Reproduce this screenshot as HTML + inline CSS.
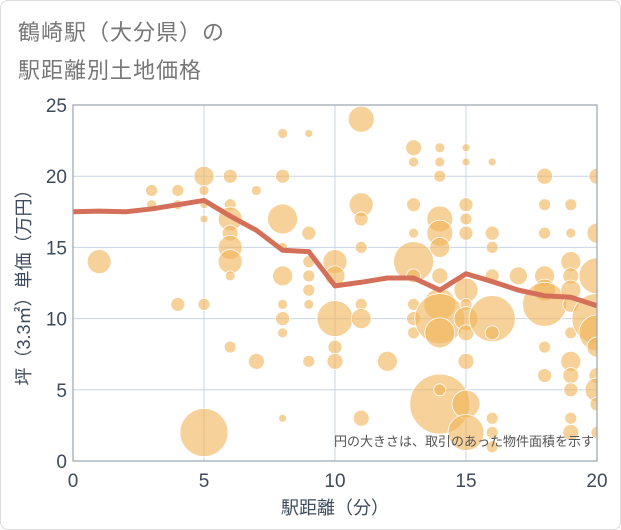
<!DOCTYPE html>
<html><head><meta charset="utf-8"><style>
body{margin:0;background:#fff;}
#wrap{position:relative;width:619px;height:528px;border:1px solid #ddd;border-radius:8px;overflow:hidden;font-family:"Liberation Sans","Noto Sans CJK JP",sans-serif;}
.title{position:absolute;left:17px;font-size:22px;color:#777;letter-spacing:1px;}
</style></head><body>
<div id="wrap">
<div class="title" style="top:14px">鶴崎駅（大分県）の</div>
<div class="title" style="top:52px">駅距離別土地価格</div>
<svg id="chart" width="621" height="530" style="position:absolute;left:-1px;top:-1px"></svg>
</div>
<script>
const xTicks=[0,5,10,15,20];
const yTicks=[0,5,10,15,20,25];
const lineX=[0,1,2,3,4,5,6,7,8,9,10,11,12,13,14,15,16,17,18,19,20];
const lineY=[17.5,17.55,17.5,17.7,18,18.3,17.2,16.2,14.8,14.7,12.3,12.55,12.85,12.85,12.0,13.15,12.6,12.0,11.6,11.5,10.9];
const bx=[1,3,3,4,4,4,5,5,5,5,5,5,6,6,6,6,6,6,6,6,7,7,8,8,8,8,8,8,8,8,8,9,9,9,9,9,9,9,10,10,10,10,10,11,11,11,11,11,11,11,12,13,13,13,13,13,13,13,13,13,14,14,14,14,14,14,14,14,14,14,14,14,15,15,15,15,15,15,15,15,15,15,15,15,16,16,16,16,16,16,16,16,16,17,18,18,18,18,18,18,18,18,19,19,19,19,19,19,19,19,19,19,19,19,20,20,20,20,20,20,20,20,20,20];
const by=[14,19,18,19,18,11,11,20,19,18,17,2,20,18,17,16,15,14,13,8,19,7,23,20,17,15,13,11,10,9,3,23,16,14,13,12,11,7,14,13,10,8,7,24,18,17,15,11,10,3,7,22,21,18,16,14,13,11,10,9,22,21,20,17,16,15,13,11,10,9,4,5,22,21,18,17,16,12,11,10,9,7,4,2,21,16,15,13,10,9,3,2,1,13,20,18,16,13,12,11,8,6,18,16,14,13,12,11,9,7,6,5,3,2,20,16,13,10,9,8,6,5,4,2];
const br=[12,6,5,6,5,7,6,10,5,4,4,24,7,6,12,8,12,12,5,6,5,8,5,7,15,5,10,5,7,5,4,4,7,6,6,6,5,6,12,10,18,7,8,13,12,7,6,6,10,8,10,8,5,7,5,20,7,6,7,6,5,5,6,13,13,10,8,16,25,15,30,6,4,4,7,6,7,12,6,12,8,8,14,18,4,7,6,7,23,7,6,6,6,9,8,6,6,10,11,22,6,7,6,5,10,8,10,8,6,10,8,7,6,8,8,10,18,25,18,10,8,12,7,6];
const NS="http://www.w3.org/2000/svg";
const svg=document.getElementById('chart');
const L=73,R=597,T=105,B=461;
const sx=v=>L+(v-0)/20*(R-L);
const sy=v=>B-(v-0)/25*(B-T);
function mk(tag,attrs){const e=document.createElementNS(NS,tag);for(const k in attrs)e.setAttribute(k,attrs[k]);svg.appendChild(e);return e;}
const defs=mk('defs',{});
const cp=document.createElementNS(NS,'clipPath');cp.setAttribute('id','pc');defs.appendChild(cp);
const cr=document.createElementNS(NS,'rect');cr.setAttribute('x',L);cr.setAttribute('y',T);cr.setAttribute('width',R-L);cr.setAttribute('height',B-T);cp.appendChild(cr);
xTicks.forEach(t=>{
 const g=mk('line',{x1:sx(t),x2:sx(t),y1:T,y2:B,stroke:'#c8d4e2','stroke-width':1});
 
 
 const l=mk('text',{x:sx(t),y:B+26,'text-anchor':'middle','font-size':19,fill:'#3d4b5c'});
 l.textContent=t;
 
 
});
yTicks.forEach(t=>{
 const g=mk('line',{x1:L,x2:R,y1:sy(t),y2:sy(t),stroke:'#c8d4e2','stroke-width':1});
 
 
 const l=mk('text',{x:L-6,y:sy(t)+7,'text-anchor':'end','font-size':19,fill:'#3d4b5c'});
 l.textContent=t;
 
 
});
const bg=mk('g',{'clip-path':'url(#pc)'});
bx.forEach((x,i)=>{
 const c=document.createElementNS(NS,'circle');
 c.setAttribute('cx',sx(x));c.setAttribute('cy',sy(by[i]));c.setAttribute('r',br[i]);
 c.setAttribute('fill','rgba(240,180,90,0.62)');c.setAttribute('stroke','#fff');c.setAttribute('stroke-width','0.8');
 
 
 bg.appendChild(c);
});
const ln=mk('polyline',{points:lineX.map((x,i)=>sx(x)+','+sy(lineY[i])).join(' '),fill:'none',stroke:'#d4705a','stroke-width':5,'stroke-linejoin':'round'});


const fr=mk('rect',{x:L,y:T,width:R-L,height:B-T,fill:'none',stroke:'#9aa4b0','stroke-width':1.2});


const note=mk('text',{x:R-3,y:446,'text-anchor':'end','font-size':13,fill:'#555'});
note.textContent='円の大きさは、取引のあった物件面積を示す';


const xt=mk('text',{x:(L+R)/2,y:514,'text-anchor':'middle','font-size':18,fill:'#3d4b5c'});
xt.textContent='駅距離（分）';


const yt=mk('text',{x:0,y:0,'text-anchor':'middle','font-size':18,fill:'#3d4b5c',transform:'translate(30,'+((T+B)/2)+') rotate(-90)'});
yt.textContent='坪（3.3㎡）単価（万円）';


</script>
</body></html>
